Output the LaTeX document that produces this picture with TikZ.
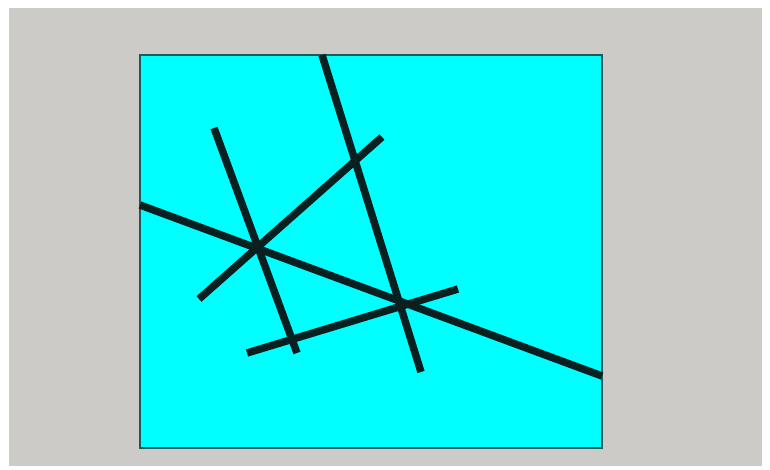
\documentclass[tikz,border=0pt]{standalone}
\begin{document}
\begin{tikzpicture}[x=1pt,y=-1pt,
  bar/.style={line width=7.5pt,draw={rgb,255:red,8;green,32;blue,32},line cap=butt}]
\definecolor{bg}{RGB}{204,203,199}
\definecolor{aqua}{RGB}{0,255,255}
\useasboundingbox (0,0) rectangle (770,470);
\fill[white] (0,0) rectangle (770,470);
\fill[bg] (9,8) rectangle (762,466);
\filldraw[fill=aqua,draw={rgb,255:red,30;green,90;blue,90},line width=1.2pt] (140,55) rectangle (602,448);
\coordinate (a1) at (140,205); \coordinate (a2) at (602,376);
\coordinate (b1) at (322,55);  \coordinate (b2) at (421,372);
\coordinate (c1) at (214,128); \coordinate (c2) at (297,353);
\coordinate (d1) at (199,299); \coordinate (d2) at (382,137);
\coordinate (e1) at (247,353); \coordinate (e2) at (458,289);
\draw[bar] (a1) -- (a2);
\draw[bar] (b1) -- (b2);
\draw[bar] (c1) -- (c2);
\draw[bar] (d1) -- (d2);
\draw[bar] (e1) -- (e2);
\end{tikzpicture}
\end{document}
